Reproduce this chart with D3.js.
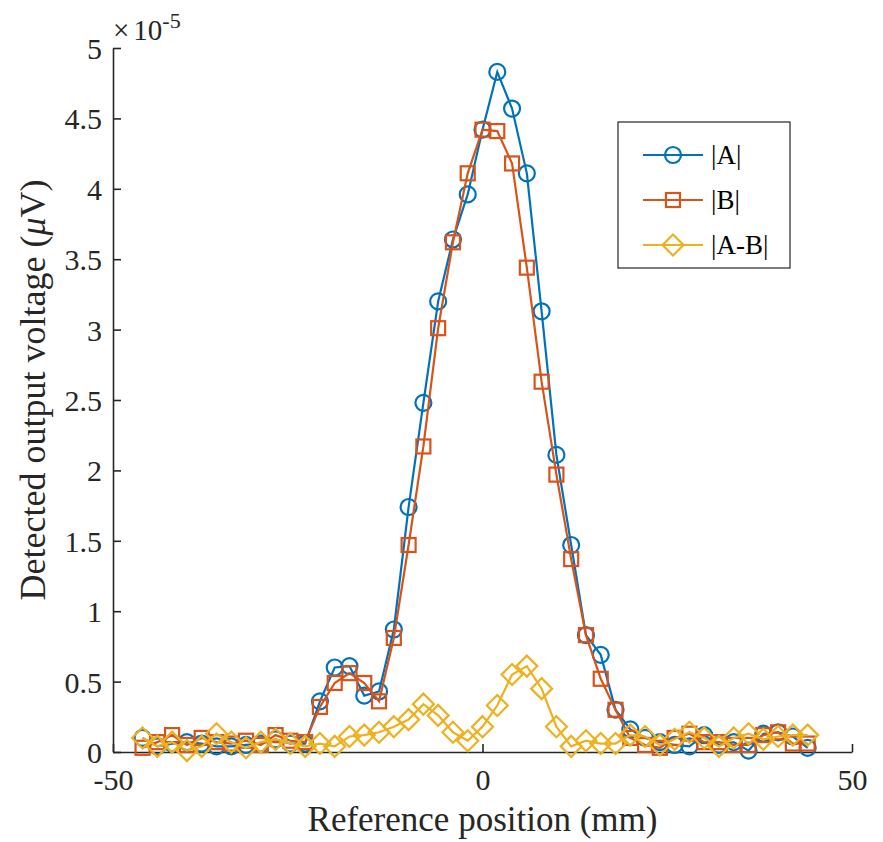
<!DOCTYPE html>
<html><head><meta charset="utf-8">
<script src="https://cdn.jsdelivr.net/npm/d3@7/dist/d3.min.js"></script>
<style>body{margin:0;background:#fff}svg{display:block}text{font-family:'Liberation Serif','Times New Roman',serif}</style>
</head><body>
<svg id="c" width="883" height="842"></svg>
<script>
// Data (values in units of 1e-5)
const positions = d3.range(-46, 45, 2); // -46 ... 44 mm
const seriesA = [0.10,0.04,0.06,0.07,0.06,0.04,0.04,0.05,0.06,0.09,0.06,0.06,0.36,0.60,0.61,0.40,0.43,0.87,1.74,2.48,3.20,3.64,3.96,4.42,4.83,4.57,4.11,3.13,2.11,1.47,0.83,0.69,0.30,0.16,0.10,0.07,0.05,0.04,0.12,0.05,0.07,0.01,0.13,0.14,0.11,0.03];
const seriesB = [0.03,0.07,0.12,0.05,0.10,0.07,0.06,0.08,0.05,0.12,0.08,0.07,0.32,0.49,0.56,0.49,0.36,0.81,1.47,2.17,3.01,3.62,4.11,4.42,4.41,4.18,3.44,2.63,1.97,1.37,0.83,0.52,0.30,0.10,0.05,0.03,0.10,0.13,0.07,0.07,0.05,0.05,0.12,0.14,0.06,0.06];
const seriesD = [0.10,0.04,0.07,0.01,0.04,0.13,0.07,0.03,0.07,0.09,0.06,0.04,0.06,0.04,0.11,0.12,0.14,0.18,0.23,0.34,0.26,0.14,0.08,0.18,0.33,0.55,0.61,0.45,0.18,0.04,0.08,0.06,0.06,0.12,0.11,0.05,0.09,0.14,0.10,0.04,0.10,0.13,0.09,0.11,0.12,0.12];
const xTicks = [-50, 0, 50];
const yTicks = [0,0.5,1,1.5,2,2.5,3,3.5,4,4.5,5];
const seriesNames = ["|A|","|B|","|A-B|"];
const seriesColors = ["#0072BD","#D95319","#EDB120"];

const svg = d3.select("#c");
const L = 113, R = 852, T = 48, B = 752;
const x = d3.scaleLinear().domain([-50,50]).range([L,R]);
const y = d3.scaleLinear().domain([0,5]).range([B,T]);
const axisColor = "#262626";
const font = "'Liberation Serif','Times New Roman',serif";

// Axes
const xAxis = svg.append("g").attr("transform",`translate(0,${B})`)
  .call(d3.axisBottom(x).tickValues(xTicks).tickSizeInner(-8).tickSizeOuter(0).tickPadding(17).tickFormat(d=>String(d)));
const yAxis = svg.append("g").attr("transform",`translate(${L},0)`)
  .call(d3.axisLeft(y).tickValues(yTicks).tickSizeInner(-8).tickSizeOuter(0).tickPadding(11).tickFormat(d=>String(d)));
[xAxis,yAxis].forEach(g=>{
  g.attr("font-family",font).attr("font-size",30);
  g.select(".domain").attr("stroke",axisColor).attr("stroke-width",1.6);
  g.selectAll(".tick line").attr("stroke",axisColor).attr("stroke-width",1.6);
  g.selectAll(".tick text").attr("fill",axisColor).attr("font-family",font).attr("font-size",30);
});
xAxis.selectAll(".tick text").attr("dy","0.71em");
yAxis.selectAll(".tick text").attr("dy","0.35em");

// exponent
const ex = svg.append("text").attr("x",L).attr("y",40).attr("fill",axisColor)
  .attr("font-family",font).attr("font-size",29);
ex.append("tspan").text("×");
ex.append("tspan").attr("dx",4).text("10");
ex.append("tspan").attr("dy",-12).attr("font-size",22).text("-5");

// Axis labels
svg.append("text").attr("x",(L+R)/2).attr("y",831).attr("text-anchor","middle")
  .attr("fill",axisColor).attr("font-family",font).attr("font-size",35).text("Reference position (mm)");
const yl = svg.append("text").attr("transform",`translate(45,${(T+B)/2 - 10}) rotate(-90)`).attr("text-anchor","middle")
  .attr("fill",axisColor).attr("font-family",font).attr("font-size",36);
yl.append("tspan").text("Detected output voltage (");
yl.append("tspan").attr("font-style","italic").text("μ");
yl.append("tspan").text("V)");

// Series
const allSeries = [seriesA, seriesB, seriesD];
const line = d3.line().x((d,i)=>x(positions[i])).y(d=>y(d));
function marker(g, k, cx, cy, color){
  if(k===0) g.append("circle").attr("cx",cx).attr("cy",cy).attr("r",8).attr("fill","none").attr("stroke",color).attr("stroke-width",2.2);
  else if(k===1) g.append("rect").attr("x",cx-7).attr("y",cy-7).attr("width",14).attr("height",14).attr("fill","none").attr("stroke",color).attr("stroke-width",2.2);
  else g.append("path").attr("d",`M${cx},${cy-10.5}L${cx+10.5},${cy}L${cx},${cy+10.5}L${cx-10.5},${cy}Z`).attr("fill","none").attr("stroke",color).attr("stroke-width",2.2);
}
allSeries.forEach((s,k)=>{
  const g = svg.append("g");
  g.append("path").datum(s).attr("d",line).attr("fill","none").attr("stroke",seriesColors[k]).attr("stroke-width",2.2);
  s.forEach((v,i)=>marker(g,k,x(positions[i]),y(v),seriesColors[k]));
});

// Legend
const lg = svg.append("g");
lg.append("rect").attr("x",618).attr("y",122).attr("width",172).attr("height",146).attr("fill","#fff").attr("stroke",axisColor).attr("stroke-width",1.2);
seriesNames.forEach((n,k)=>{
  const yy = 155 + k*45;
  lg.append("line").attr("x1",643).attr("x2",703).attr("y1",yy).attr("y2",yy).attr("stroke",seriesColors[k]).attr("stroke-width",2.2);
  marker(lg,k,673,yy,seriesColors[k]);
  lg.append("text").attr("x",711).attr("y",yy).attr("dy","0.35em").attr("fill","#000").attr("font-family",font).attr("font-size",27).text(n);
});
</script>
</body></html>
